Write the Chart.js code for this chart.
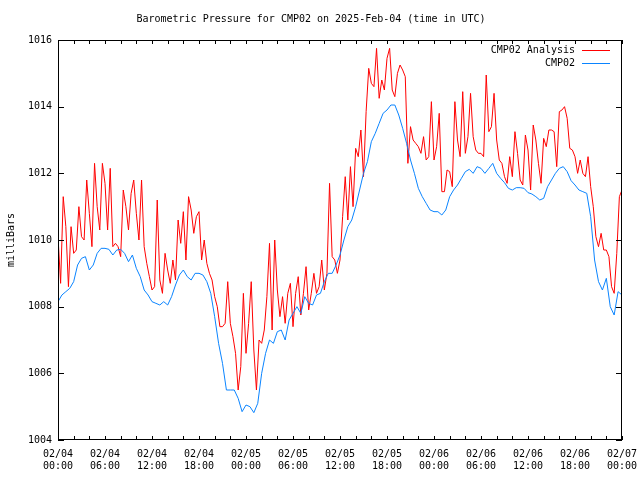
<!DOCTYPE html>
<html>
<head>
<meta charset="utf-8">
<script src="https://cdn.jsdelivr.net/npm/chart.js@4/dist/chart.umd.min.js"></script>
<style>
  html, body { margin: 0; padding: 0; background: #fff; }
</style>
</head>
<body>
<canvas id="baro" width="640" height="480"></canvas>
<script>
// hours since 2025-02-04 00:00 UTC
const xTickLabels = [
  ['02/04', '00:00'], ['02/04', '06:00'], ['02/04', '12:00'], ['02/04', '18:00'],
  ['02/05', '00:00'], ['02/05', '06:00'], ['02/05', '12:00'], ['02/05', '18:00'],
  ['02/06', '00:00'], ['02/06', '06:00'], ['02/06', '12:00'], ['02/06', '18:00'],
  ['02/07', '00:00']
];

// CMP02 Analysis, one value every 20 minutes (3 per hour row)
const analysisMinutes = 20;
const analysisValues = [
  1010.1, 1008.7, 1011.3,   1010.4, 1008.6, 1010.4,   1009.6, 1009.7, 1011.0,
  1010.1, 1010.0, 1011.8,   1010.8, 1009.8, 1012.3,   1011.0, 1010.3, 1012.3,
  1011.7, 1010.3, 1012.15,  1009.8, 1009.9, 1009.8,   1009.5, 1011.5, 1011.0,
  1010.3, 1011.4, 1011.8,   1010.8, 1010.0, 1011.8,   1009.8, 1009.3, 1008.9,
  1008.5, 1008.6, 1011.2,   1008.8, 1008.4, 1009.6,   1009.1, 1008.7, 1009.4,
  1008.8, 1010.6, 1009.9,   1010.85, 1009.4, 1011.3,  1010.9, 1010.2, 1010.7,
  1010.85, 1009.4, 1010.0,  1009.3, 1009.0, 1008.8,   1008.3, 1008.0, 1007.4,
  1007.4, 1007.5, 1008.75,  1007.5, 1007.1, 1006.6,   1005.5, 1006.2, 1008.4,
  1006.6, 1007.5, 1008.75,  1006.7, 1005.5, 1007.0,   1006.9, 1007.3, 1008.3,
  1009.9, 1007.3, 1010.0,   1008.5, 1007.7, 1008.3,   1007.5, 1008.4, 1008.7,
  1007.4, 1008.4, 1008.9,   1007.75, 1008.4, 1009.2,  1007.9, 1008.4, 1009.0,
  1008.4, 1008.6, 1009.4,   1008.5, 1009.0, 1011.7,   1009.5, 1009.4, 1009.0,
  1009.4, 1010.7, 1011.9,   1010.6, 1012.2, 1011.0,   1012.75, 1012.5, 1013.3,
  1011.9, 1013.85, 1015.15, 1014.7, 1014.6, 1015.75,  1014.25, 1014.8, 1014.5,
  1015.45, 1015.75, 1014.5, 1014.3, 1015.0, 1015.25,  1015.1, 1014.9, 1012.3,
  1013.4, 1013.0, 1012.9,   1012.8, 1012.6, 1013.1,   1012.4, 1012.5, 1014.15,
  1012.4, 1012.8, 1013.8,   1011.45, 1011.45, 1012.1, 1012.05, 1011.6, 1014.15,
  1013.0, 1012.5, 1014.45,  1012.6, 1013.1, 1014.4,   1013.1, 1012.7, 1012.6,
  1012.6, 1012.5, 1014.95,  1013.25, 1013.4, 1014.4,  1013.0, 1012.4, 1012.3,
  1011.9, 1011.7, 1012.5,   1011.9, 1013.25, 1012.6,  1011.8, 1011.65, 1013.15,
  1012.7, 1011.5, 1013.45,  1013.0, 1012.3, 1011.7,   1013.05, 1012.8, 1013.3,
  1013.3, 1013.25, 1012.2,  1013.85, 1013.9, 1014.0,  1013.65, 1012.75, 1012.7,
  1012.5, 1012.0, 1012.4,   1012.0, 1011.9, 1012.5,   1011.6, 1011.0, 1010.1,
  1009.8, 1010.2, 1009.7,   1009.7, 1009.5, 1008.6,   1008.4, 1009.6, 1011.3,
  1011.5
];

// CMP02 observed, one value every 30 minutes (2 per hour)
const obsMinutes = 30;
const obsValues = [
  1008.15, 1008.35, 1008.45, 1008.55, 1008.75, 1009.25, 1009.45, 1009.5,
  1009.1, 1009.25, 1009.6, 1009.75, 1009.75, 1009.72, 1009.55, 1009.7,
  1009.72, 1009.6, 1009.35, 1009.55, 1009.15, 1008.9, 1008.5, 1008.35,
  1008.15, 1008.1, 1008.05, 1008.15, 1008.05, 1008.3, 1008.65, 1008.95,
  1009.1, 1008.9, 1008.8, 1009.0, 1009.0, 1008.95, 1008.75, 1008.4,
  1007.7, 1006.9, 1006.3, 1005.5, 1005.5, 1005.5, 1005.25, 1004.85,
  1005.05, 1005.0, 1004.82, 1005.1, 1006.0, 1006.6, 1007.0, 1006.9,
  1007.25, 1007.3, 1007.0, 1007.6, 1007.8, 1008.0, 1007.8, 1008.3,
  1008.1, 1008.05, 1008.35, 1008.4, 1008.75, 1009.0, 1009.0, 1009.25,
  1009.55, 1010.0, 1010.4, 1010.6, 1011.0, 1011.5, 1012.0, 1012.35,
  1012.95, 1013.2, 1013.5, 1013.8, 1013.9, 1014.05, 1014.05, 1013.75,
  1013.35, 1012.9, 1012.4, 1012.0, 1011.55, 1011.3, 1011.1, 1010.9,
  1010.85, 1010.85, 1010.75, 1010.9, 1011.3, 1011.5, 1011.65, 1011.85,
  1012.05, 1012.12, 1012.0, 1012.2, 1012.15, 1012.0, 1012.15, 1012.3,
  1012.0, 1011.85, 1011.72, 1011.55, 1011.5, 1011.57, 1011.57, 1011.55,
  1011.42, 1011.38, 1011.3, 1011.2, 1011.25, 1011.6, 1011.8, 1012.0,
  1012.15, 1012.2, 1012.05, 1011.78, 1011.65, 1011.5, 1011.45, 1011.4,
  1010.7, 1009.4, 1008.75, 1008.5, 1008.85, 1008.0, 1007.75, 1008.45,
  1008.35
];

const FONT = 'DejaVu Sans Mono, Liberation Mono, monospace';

const toPoints = (vals, minutes) => vals.map((v, i) => ({ x: i * minutes / 60, y: v }));

// gnuplot-like frame: full box, small inward ticks on all four sides, legend top right
const framePlugin = {
  id: 'frame',
  afterDraw(chart) {
    const { ctx, chartArea: { left, right, top, bottom }, scales: { x, y } } = chart;
    ctx.save();
    ctx.strokeStyle = '#000';
    ctx.lineWidth = 1;
    ctx.strokeRect(left + 0.5, top + 0.5, right - left - 1, bottom - top - 1);
    ctx.beginPath();
    for (let h = 0; h <= 72; h += 2) {
      const px = Math.round(x.getPixelForValue(h)) + 0.5;
      ctx.moveTo(px, bottom); ctx.lineTo(px, bottom - 4);
      ctx.moveTo(px, top); ctx.lineTo(px, top + 4);
    }
    for (let v = 1004; v <= 1016; v += 2) {
      const py = Math.round(y.getPixelForValue(v)) + 0.5;
      ctx.moveTo(left, py); ctx.lineTo(left + 6, py);
      ctx.moveTo(right, py); ctx.lineTo(right - 6, py);
    }
    ctx.stroke();

    ctx.font = '10px ' + FONT;
    ctx.textAlign = 'right';
    ctx.textBaseline = 'middle';
    chart.data.datasets.forEach((ds, i) => {
      const ly = top + 10 + i * 13;
      ctx.fillStyle = '#000';
      ctx.fillText(ds.label, right - 47, ly);
      ctx.strokeStyle = ds.borderColor;
      ctx.beginPath();
      ctx.moveTo(right - 40, ly + 0.5);
      ctx.lineTo(right - 12, ly + 0.5);
      ctx.stroke();
    });
    ctx.restore();
  }
};

new Chart(document.getElementById('baro'), {
  type: 'line',
  data: {
    datasets: [
      {
        label: 'CMP02 Analysis',
        data: toPoints(analysisValues, analysisMinutes),
        borderColor: '#ff0000',
        borderWidth: 1,
        pointRadius: 0,
        tension: 0,
        order: 1
      },
      {
        label: 'CMP02',
        data: toPoints(obsValues, obsMinutes),
        borderColor: '#0a84ff',
        borderWidth: 1,
        pointRadius: 0,
        tension: 0,
        order: 0
      }
    ]
  },
  options: {
    responsive: false,
    devicePixelRatio: 1,
    animation: false,
    layout: { padding: { left: 0, right: 18, top: 0, bottom: 0 } },
    plugins: {
      legend: { display: false },
      tooltip: { enabled: false },
      title: {
        display: true,
        text: 'Barometric Pressure for CMP02 on 2025-Feb-04 (time in UTC)',
        color: '#000',
        font: { family: FONT, size: 10, weight: 'normal' },
        padding: { top: 13, bottom: 15 }
      }
    },
    scales: {
      x: {
        type: 'linear',
        min: 0,
        max: 72,
        grid: { display: false, drawTicks: false },
        border: { display: false },
        afterFit: (s) => { s.height = 40; s.paddingLeft = 0; s.paddingRight = 0; },
        ticks: {
          stepSize: 6,
          autoSkip: false,
          maxRotation: 0,
          padding: 8,
          color: '#000',
          font: { family: FONT, size: 10 },
          callback: (v) => xTickLabels[v / 6]
        }
      },
      y: {
        min: 1004,
        max: 1016,
        grid: { display: false, drawTicks: false },
        border: { display: false },
        afterFit: (s) => { s.width = 58; s.paddingTop = 0; s.paddingBottom = 0; },
        title: {
          display: true,
          text: 'milliBars',
          color: '#000',
          font: { family: FONT, size: 10 },
          padding: { top: 5, bottom: 0 }
        },
        ticks: {
          stepSize: 2,
          padding: 6,
          color: '#000',
          font: { family: FONT, size: 10 },
          callback: (v) => String(v)
        }
      }
    }
  },
  plugins: [framePlugin]
});
</script>
</body>
</html>
